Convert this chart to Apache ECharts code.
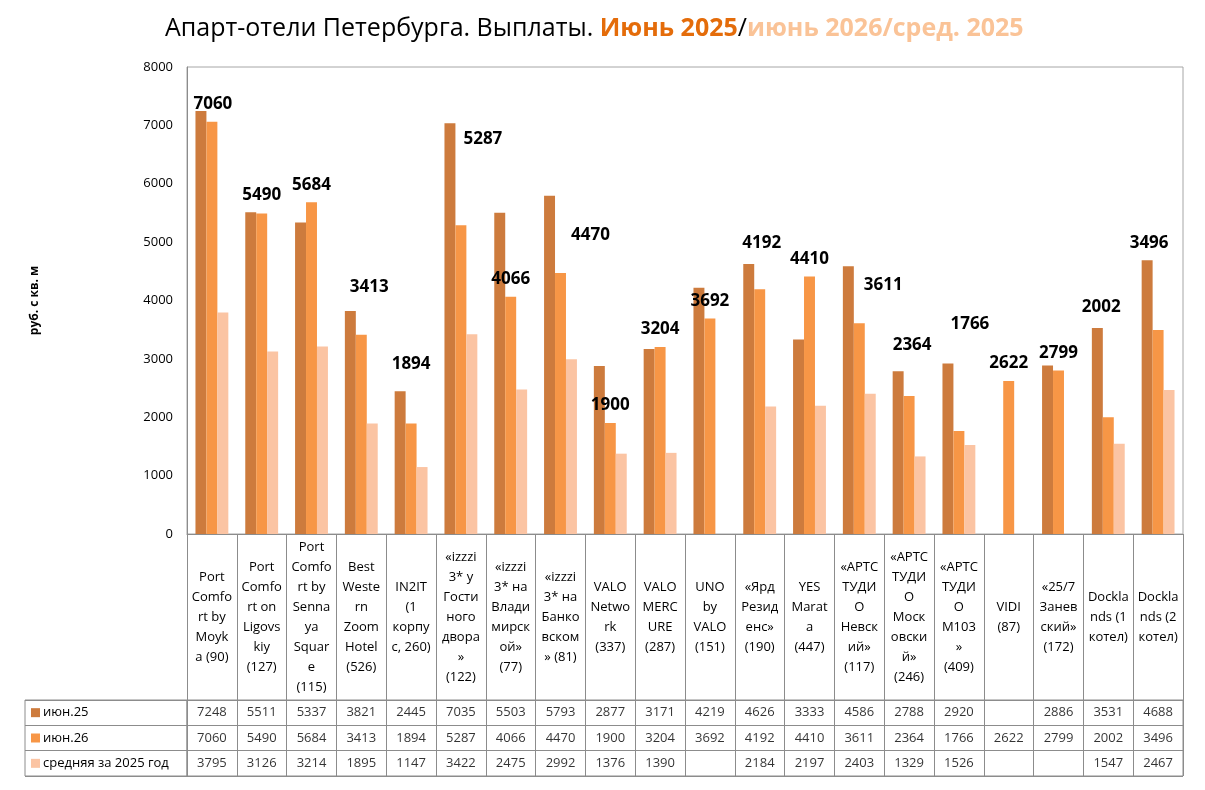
<html>
    <head>
        <meta charset="utf-8">
        <script src="https://cdn.jsdelivr.net/npm/echarts@6/dist/echarts.min.js"></script>
        <style>
            html, body { margin: 0; padding: 0; background: #fff; }
            #main { width: 1205px; height: 790px; }
        </style>
    </head>
    <body>
        <div id="main"></div>

        <script>
            // category labels, wrapped the way the picture shows them
            var hotels = [
                'Port\nComfo\nrt by\nMoyk\na (90)',
                'Port\nComfo\nrt on\nLigovs\nkiy\n(127)',
                'Port\nComfo\nrt by\nSenna\nya\nSquar\ne\n(115)',
                'Best\nWeste\nrn\nZoom\nHotel\n(526)',
                'IN2IT\n(1\nкорпу\nс, 260)',
                '«izzzi\n3* у\nГости\nного\nдвора\n»\n(122)',
                '«izzzi\n3* на\nВлади\nмирск\nой»\n(77)',
                '«izzzi\n3* на\nБанко\nвском\n» (81)',
                'VALO\nNetwo\nrk\n(337)',
                'VALO\nMERC\nURE\n(287)',
                'UNO\nby\nVALO\n(151)',
                '«Ярд\nРезид\nенс»\n(190)',
                'YES\nMarat\na\n(447)',
                '«АРТС\nТУДИ\nО\nНевск\nий»\n(117)',
                '«АРТС\nТУДИ\nО\nМоск\nовски\nй»\n(246)',
                '«АРТС\nТУДИ\nО\nМ103\n»\n(409)',
                'VIDI\n(87)',
                '«25/7\nЗанев\nский»\n(172)',
                'Dockla\nnds (1\nкотел)',
                'Dockla\nnds (2\nкотел)'
            ];

            var seriesNames = ['июн.25', 'июн.26', 'средняя за 2025 год'];

            var jun25 = [7248, 5511, 5337, 3821, 2445, 7035, 5503, 5793, 2877, 3171,
                         4219, 4626, 3333, 4586, 2788, 2920, null, 2886, 3531, 4688];
            var jun26 = [7060, 5490, 5684, 3413, 1894, 5287, 4066, 4470, 1900, 3204,
                         3692, 4192, 4410, 3611, 2364, 1766, 2622, 2799, 2002, 3496];
            var avg2025 = [3795, 3126, 3214, 1895, 1147, 3422, 2475, 2992, 1376, 1390,
                           null, 2184, 2197, 2403, 1329, 1526, null, null, 1547, 2467];

            var yTicks = {min: 0, max: 8000, interval: 1000};

            // style: where the bold labels were dragged to in the original
            var labelNudge = [
                [1, -4], [0, -5], [0, -4], [8, -34], [0, -46],
                [22, -73], [0, -4], [30, -24], [0, -4], [0, -4],
                [0, -4], [2, -33], [0, -4], [24, -25], [3, -37],
                [11, -93], [0, -4], [0, -4], [-7, -96], [-9, -73]
            ];

            var colors = ['#cd7b3d', '#f79646', '#fbc4a3'];
            var font = '"Open Sans", "Noto Sans", sans-serif';
            var lineColor = '#8c8c8c';

            var chart = echarts.init(document.getElementById('main'));

            var tableCells = [];
            [jun25, jun26, avg2025].forEach(function (row, r) {
                row.forEach(function (v, i) {
                    if (v !== null) {
                        tableCells.push([i, r, v]);
                    }
                });
            });

            var rich = {};
            colors.forEach(function (c, i) {
                rich['s' + i] = {width: 9, height: 9, backgroundColor: c};
            });
            rich.t = {fontSize: 13, fontFamily: font, color: '#000', padding: [0, 0, 0, 3]};

            chart.setOption({
                animation: false,
                textStyle: {fontFamily: font},
                title: {
                    left: 160,
                    top: 11,
                    text: '{a|Апарт-отели Петербурга. Выплаты. }{b|Июнь 2025}{c|/}{d|июнь 2026/сред. 2025}',
                    textStyle: {
                        rich: {
                            a: {fontSize: 25, color: '#000', fontWeight: 'normal', fontFamily: font},
                            b: {fontSize: 25, color: '#e46c0a', fontWeight: 'bold', fontFamily: font},
                            c: {fontSize: 25, color: '#000', fontWeight: 'normal', fontFamily: font},
                            d: {fontSize: 25, color: '#fac397', fontWeight: 'bold', fontFamily: font}
                        }
                    }
                },
                grid: [
                    {left: 187, top: 67, width: 996, height: 467,
                     show: true, borderColor: '#a6a6a6', borderWidth: 1},
                    {left: 187, top: 700, width: 996, height: 76,
                     show: true, borderColor: lineColor, borderWidth: 1},
                    {left: 25, top: 700, width: 162, height: 76,
                     show: true, borderColor: lineColor, borderWidth: 1}
                ],
                xAxis: [
                    {
                        type: 'category',
                        gridIndex: 0,
                        data: hotels,
                        axisLine: {lineStyle: {color: lineColor}},
                        axisTick: {show: true, interval: 0, length: 242,
                                   lineStyle: {color: lineColor}},
                        axisLabel: {
                            interval: 0,
                            margin: 83,
                            verticalAlign: 'middle',
                            lineHeight: 20,
                            fontSize: 13,
                            color: '#000',
                            fontFamily: font
                        }
                    },
                    {type: 'category', gridIndex: 1, data: hotels, show: false},
                    {type: 'value', gridIndex: 2, show: false}
                ],
                yAxis: [
                    {
                        type: 'value',
                        gridIndex: 0,
                        min: yTicks.min,
                        max: yTicks.max,
                        interval: yTicks.interval,
                        name: 'руб. с кв. м',
                        nameLocation: 'middle',
                        nameGap: 146,
                        nameTextStyle: {fontSize: 12, fontWeight: 'bold', color: '#000'},
                        axisLine: {show: true, lineStyle: {color: lineColor}},
                        axisTick: {show: false},
                        splitLine: {show: false},
                        axisLabel: {
                            fontSize: 13,
                            color: '#000',
                            margin: 14,
                            formatter: function (v) { return String(v); }
                        }
                    },
                    {
                        type: 'category',
                        gridIndex: 1,
                        data: seriesNames,
                        inverse: true,
                        axisLine: {show: false},
                        axisTick: {show: false},
                        axisLabel: {show: false},
                        splitLine: {show: true, interval: 0, lineStyle: {color: lineColor}}
                    },
                    {
                        type: 'category',
                        gridIndex: 2,
                        data: seriesNames,
                        inverse: true,
                        axisLine: {show: false},
                        axisTick: {show: false},
                        splitLine: {show: true, interval: 0, lineStyle: {color: lineColor}},
                        axisLabel: {
                            inside: true,
                            margin: 6,
                            formatter: function (value, idx) {
                                return '{s' + idx + '|}{t|' + value + '}';
                            },
                            rich: rich
                        }
                    }
                ],
                series: [
                    {
                        name: seriesNames[0],
                        type: 'bar',
                        data: jun25,
                        barGap: '0%',
                        barCategoryGap: '34%',
                        itemStyle: {color: colors[0]}
                    },
                    {
                        name: seriesNames[1],
                        type: 'bar',
                        data: jun26.map(function (v, i) {
                            return {value: v, label: {offset: labelNudge[i]}};
                        }),
                        itemStyle: {color: colors[1]},
                        label: {
                            show: true,
                            position: 'top',
                            distance: 5,
                            fontSize: 17,
                            fontWeight: 'bold',
                            color: '#000',
                            fontFamily: font
                        }
                    },
                    {
                        name: seriesNames[2],
                        type: 'bar',
                        data: avg2025,
                        itemStyle: {color: colors[2]}
                    },
                    {
                        name: 'table',
                        type: 'scatter',
                        xAxisIndex: 1,
                        yAxisIndex: 1,
                        symbolSize: 0,
                        silent: true,
                        data: tableCells,
                        label: {
                            show: true,
                            position: 'inside',
                            fontSize: 13,
                            color: '#000',
                            fontFamily: font,
                            formatter: function (p) { return p.value[2]; }
                        }
                    }
                ]
            });
        </script>
    </body>
</html>
